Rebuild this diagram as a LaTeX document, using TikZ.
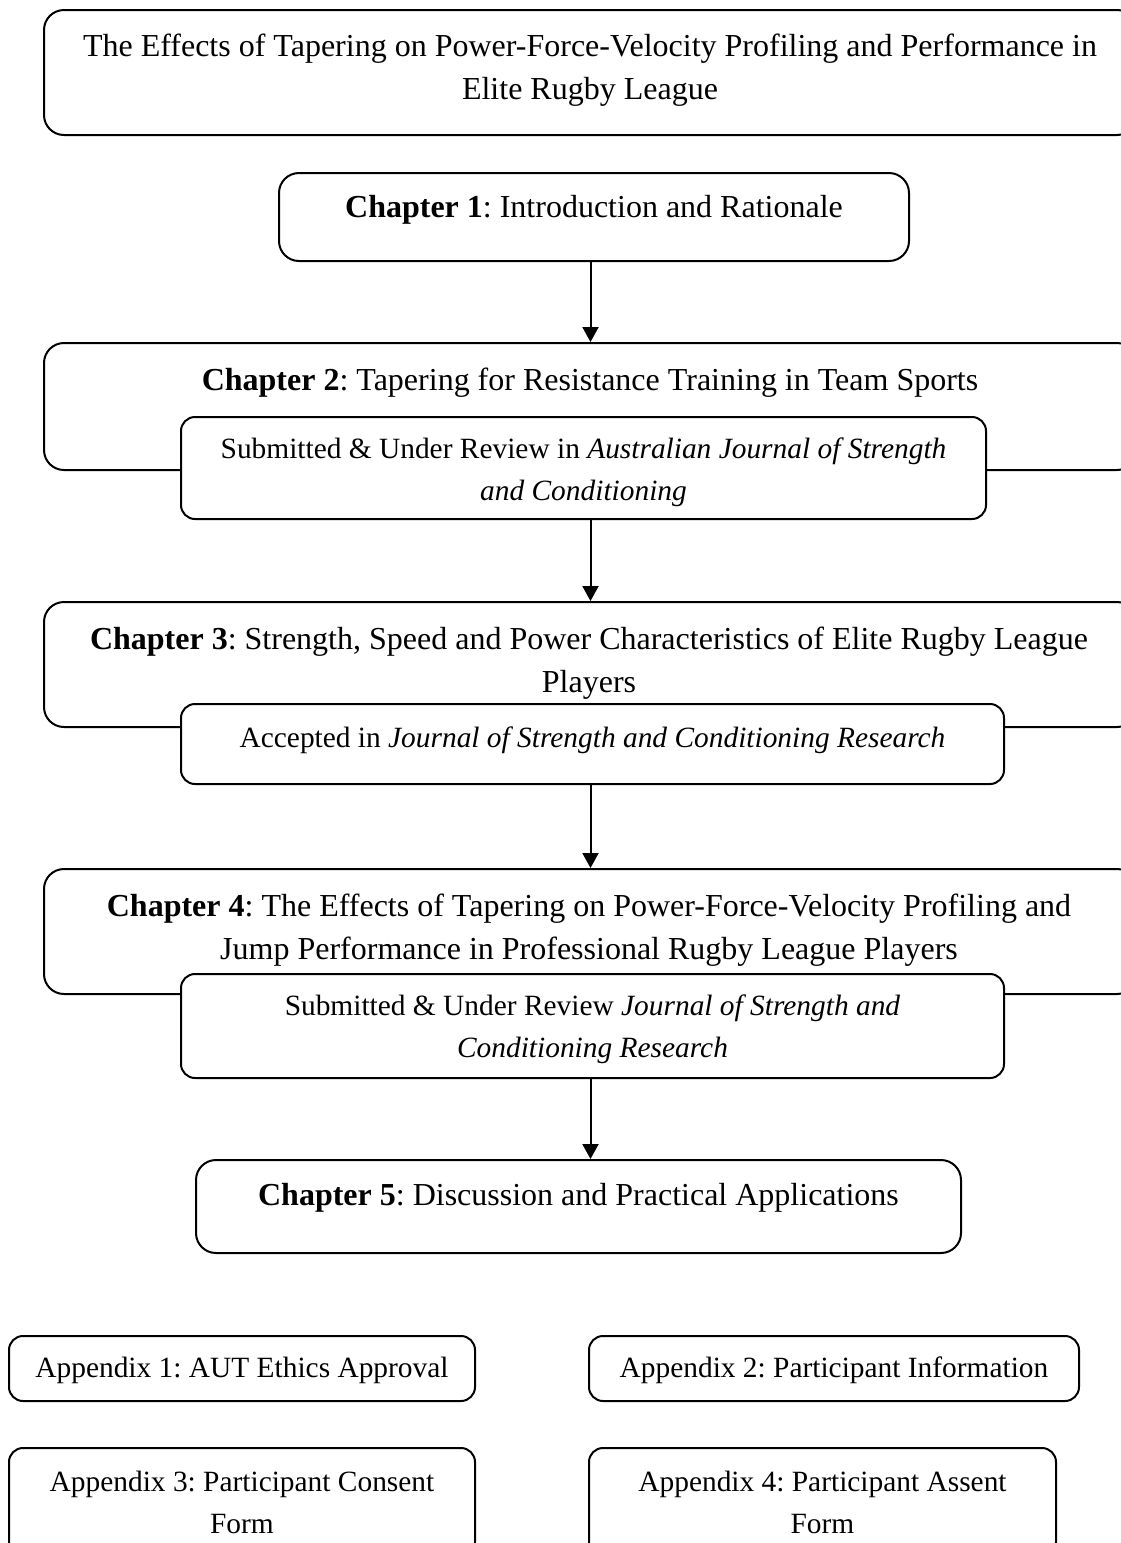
\documentclass[tikz,border=0pt]{standalone}
\usepackage{fontspec}
\setmainfont{Liberation Serif}
\usetikzlibrary{arrows.meta}
\tikzstyle{bigbox} = [
  draw,
  line width=1pt,
  rounded corners=10pt,
  fill=white,
  inner sep=0pt,
]
\tikzstyle{subbox} = [bigbox, rounded corners=7pt]
\tikzstyle{txt} = [
  align=center,
  inner sep=0pt,
  font=\fontsize{16}{21.5}\selectfont\frenchspacing,
]
\tikzstyle{smalltxt} = [txt, font=\fontsize{14.7}{21}\selectfont\frenchspacing]
\tikzstyle{arr} = [line width=1pt, -{Triangle[length=7.5pt,width=8pt]}]

\begin{document}
\begin{tikzpicture}[x=0.5pt, y=-0.5pt]
      \useasboundingbox (0,0) rectangle (1120,1543);

      % Boxes
      \node[bigbox, minimum width=546.5pt, minimum height=62.5pt] (title) at (590.5,72.5) {};
      \node[bigbox, minimum width=315pt, minimum height=44pt] (ch1) at (594,217) {};
      \node[bigbox, minimum width=546.5pt, minimum height=63.5pt] (ch2) at (590.5,406.5) {};
      \node[subbox, minimum width=402.5pt, minimum height=51pt] (sub2) at (583.5,468) {};
      \node[bigbox, minimum width=546.5pt, minimum height=62.5pt] (ch3) at (590.5,664.5) {};
      \node[subbox, minimum width=411.5pt, minimum height=40pt] (sub3) at (592.5,744) {};
      \node[bigbox, minimum width=546.5pt, minimum height=62.5pt] (ch4) at (590.5,931.5) {};
      \node[subbox, minimum width=411.5pt, minimum height=52pt] (sub4) at (592.5,1026) {};
      \node[bigbox, minimum width=382.5pt, minimum height=46.5pt] (ch5) at (578.5,1206.5) {};

      % Appendices
      \node[subbox, minimum width=233pt, minimum height=32.5pt] (app1) at (242,1368.5) {};
      \node[subbox, minimum width=245pt, minimum height=32.5pt] (app2) at (834,1368.5) {};
      \node[subbox, minimum width=233pt, minimum height=54pt] (app3) at (242,1502) {};
      \node[subbox, minimum width=233.5pt, minimum height=54pt] (app4) at (822.5,1502) {};

      % Arrows
      \draw[arr] (ch1.south -| ch2.north) -- (ch2.north);
      \draw[arr] (sub2.south -| ch3.north) -- (ch3.north);
      \draw[arr] (sub3.south -| ch4.north) -- (ch4.north);
      \draw[arr] (sub4.south -| ch4.north) -- (ch5.north -| ch4.north);

      % Labels
      \node[txt] (titletxt) at (590,70) {The Effects of Tapering on Power-Force-Velocity Profiling and Performance in\\Elite Rugby League};
      \node[txt] (ch1txt) at (594,210) {\textbf{Chapter 1}: Introduction and Rationale};
      \node[txt] (ch2txt) at (590,383) {\textbf{Chapter 2}: Tapering for Resistance Training in Team Sports};
      \node[smalltxt] (sub2txt) at (583.5,472.5) {Submitted \& Under Review in \textit{Australian Journal of Strength}\\\textit{and Conditioning}};
      \node[txt] (ch3txt) at (589,663) {\textbf{Chapter 3}: Strength, Speed and Power Characteristics of Elite Rugby League\\Players};
      \node[smalltxt] (sub3txt) at (592.5,740) {Accepted in \textit{Journal of Strength and Conditioning Research}};
      \node[txt] (ch4txt) at (589,930) {\textbf{Chapter 4}: The Effects of Tapering on Power-Force-Velocity Profiling and\\Jump Performance in Professional Rugby League Players};
      \node[smalltxt] (sub4txt) at (592.5,1029) {Submitted \& Under Review \textit{Journal of Strength and}\\\textit{Conditioning Research}};
      \node[txt] (ch5txt) at (578.5,1198) {\textbf{Chapter 5}: Discussion and Practical Applications};
      \node[smalltxt] (app1txt) at (242,1370) {Appendix 1: AUT Ethics Approval};
      \node[smalltxt] (app2txt) at (834,1370) {Appendix 2: Participant Information};
      \node[smalltxt] (app3txt) at (242,1502) {Appendix 3: Participant Consent\\Form};
      \node[smalltxt] (app4txt) at (822.5,1502) {Appendix 4: Participant Assent\\Form};
    \end{tikzpicture}
\end{document}
